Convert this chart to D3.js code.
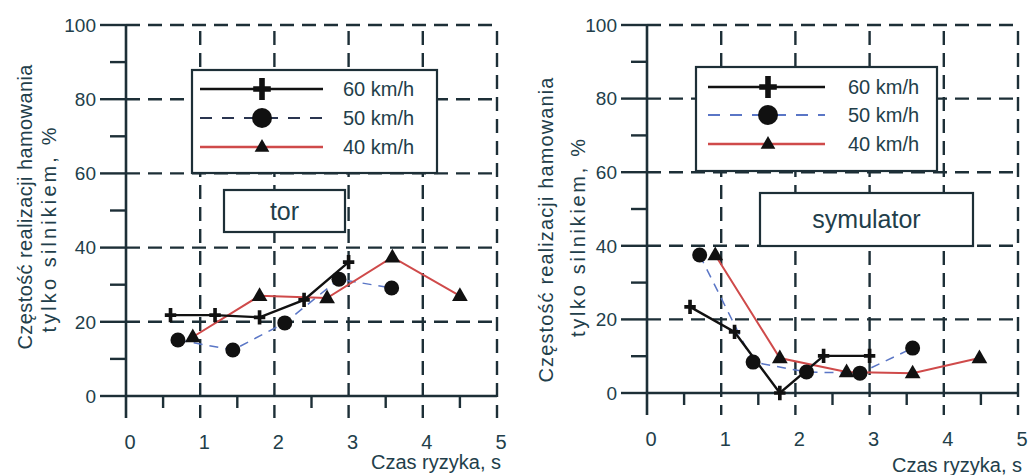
<!DOCTYPE html>
<html>
<head>
<meta charset="utf-8">
<script src="https://cdn.jsdelivr.net/npm/d3@7"></script>
<style>
  html, body { margin: 0; padding: 0; background: #fff; }
  svg { display: block; font-family: "Liberation Sans", Arial, sans-serif; }
</style>
</head>
<body>
<svg id="chart" width="1029" height="475"></svg>
<script>
// Speed series shown in both panels
const speedLabels = ["60 km/h", "50 km/h", "40 km/h"];
const xTicks = [0, 1, 2, 3, 4, 5];
const xMinorTicks = [0.5, 1.5, 2.5, 3.5, 4.5];
const yTicks = [0, 20, 40, 60, 80, 100];
const yMinorTicks = [10, 30, 50, 70, 90];
const xTitle = "Czas ryzyka, s";
const yTitle1 = "Częstość realizacji hamowania";
const yTitle2 = "tylko silnikiem, %";
const panelNames = ["tor", "symulator"];

// Track ("tor") measurements: risk time [s] and share [%]
const torT60 = [0.6, 1.2, 1.8, 2.4, 3.0];
const torV60 = [21.8, 21.8, 21.2, 25.9, 36.1];
const torT50 = [0.7, 1.44, 2.14, 2.87, 3.58];
const torV50 = [15.1, 12.4, 19.7, 31.5, 29.1];
const torT40 = [0.9, 1.8, 2.71, 3.59, 4.5];
const torV40 = [15.9, 27.0, 26.4, 37.4, 27.0];

// Simulator ("symulator") measurements
const symT60 = [0.58, 1.18, 1.79, 2.38, 3.0];
const symV60 = [23.4, 16.6, 0, 10.1, 10.1];
const symT50 = [0.71, 1.43, 2.15, 2.87, 3.58];
const symV50 = [37.5, 8.4, 5.7, 5.4, 12.2];
const symT40 = [0.92, 1.79, 2.69, 3.58, 4.48];
const symV40 = [37.5, 9.5, 5.7, 5.4, 9.5];

const INK = "#1d2f37";
const TXT = "#223e4a";
const C50 = "#5a76c6";
const C40 = "#cf4a4a";

const zip = (t, v) => t.map((d, i) => ({ t: d, v: v[i] }));

const panels = [
  {
    name: panelNames[0],
    x0: 126, x1: 497, y0: 396, y1: 25,
    legend: { x: 192, y: 70, w: 245, h: 103, rows: [89, 118, 147], lx0: 200, lx1: 323, mx: 262, tx: 343, c50: "#2a3550" },
    box: { x: 224, y: 190, w: 121, h: 42 },
    title1: { x: 25, cy: 207, len: 285 },
    title2: { x: 49, cy: 230, len: 205 },
    xTitleY: 469,
    series: [zip(torT60, torV60), zip(torT50, torV50), zip(torT40, torV40)]
  },
  {
    name: panelNames[1],
    x0: 647, x1: 1018, y0: 393, y1: 25,
    legend: { x: 696, y: 67, w: 241, h: 104, rows: [87, 115, 144], lx0: 708, lx1: 825, mx: 768, tx: 848, c50: C50 },
    box: { x: 760, y: 193, w: 213, h: 53 },
    title1: { x: 546, cy: 230, len: 305 },
    title2: { x: 578, cy: 238, len: 198 },
    xTitleY: 472,
    series: [zip(symT60, symV60), zip(symT50, symV50), zip(symT40, symV40)]
  }
];

const svg = d3.select("#chart");

function drawMarker(g, kind, cx, cy, size) {
  if (kind === 0) {
    const a = size * 0.55;
    g.append("path")
      .attr("d", `M${cx - a * 0.8},${cy}H${cx + a * 0.8}M${cx},${cy - a}V${cy + a}`)
      .attr("stroke", "#111").attr("stroke-width", size * 0.28).attr("fill", "none");
  } else if (kind === 1) {
    g.append("circle").attr("cx", cx).attr("cy", cy).attr("r", size * 0.5).attr("fill", "#111");
  } else {
    const s = size * 1.05;
    const h = s * 0.87;
    g.append("path")
      .attr("d", `M${cx},${cy - h * 0.62}L${cx + s / 2},${cy + h * 0.38}L${cx - s / 2},${cy + h * 0.38}Z`)
      .attr("fill", "#111");
  }
}

panels.forEach(p => {
  const x = d3.scaleLinear().domain([0, 5]).range([p.x0, p.x1]);
  const y = d3.scaleLinear().domain([0, 100]).range([p.y0, p.y1]);
  const g = svg.append("g");

  // dashed grid
  g.selectAll(".hgrid").data(yTicks.filter(d => d > 0)).enter().append("line")
    .attr("x1", p.x0).attr("x2", p.x1).attr("y1", d => y(d)).attr("y2", d => y(d))
    .attr("stroke", INK).attr("stroke-width", 2.4).attr("stroke-dasharray", "14,8");
  g.selectAll(".vgrid").data(xTicks.filter(d => d > 0)).enter().append("line")
    .attr("x1", d => x(d)).attr("x2", d => x(d)).attr("y1", p.y1).attr("y2", p.y0 + 22)
    .attr("stroke", INK).attr("stroke-width", 2.4).attr("stroke-dasharray", "14,8")
    .attr("stroke-dashoffset", -6);

  // y axis and ticks
  g.append("line").attr("x1", p.x0).attr("x2", p.x0).attr("y1", p.y1).attr("y2", p.y0 + 22)
    .attr("stroke", INK).attr("stroke-width", 2.6);
  g.selectAll(".ymaj").data(yTicks).enter().append("line")
    .attr("x1", p.x0 - 26).attr("x2", p.x0).attr("y1", d => y(d)).attr("y2", d => y(d))
    .attr("stroke", INK).attr("stroke-width", 2.4);
  g.selectAll(".ymin").data(yMinorTicks).enter().append("line")
    .attr("x1", p.x0 - 16).attr("x2", p.x0).attr("y1", d => y(d)).attr("y2", d => y(d))
    .attr("stroke", INK).attr("stroke-width", 2.4);

  // x axis line and minor ticks
  g.append("line").attr("x1", p.x0).attr("x2", p.x1).attr("y1", y(0)).attr("y2", y(0))
    .attr("stroke", INK).attr("stroke-width", 2.6);
  g.selectAll(".xmin").data(xMinorTicks).enter().append("line")
    .attr("x1", d => x(d)).attr("x2", d => x(d)).attr("y1", y(0)).attr("y2", y(0) + 12)
    .attr("stroke", INK).attr("stroke-width", 2.4);

  // tick labels
  g.selectAll(".ylab").data(yTicks).enter().append("text")
    .attr("x", p.x0 - 30).attr("y", d => y(d)).attr("dy", "0.36em")
    .attr("text-anchor", "end").attr("font-size", 19).attr("fill", TXT).text(d => d);
  g.selectAll(".xlab").data(xTicks).enter().append("text")
    .attr("x", d => x(d) + 4).attr("y", p.y0 + 53)
    .attr("text-anchor", "middle").attr("font-size", 20).attr("fill", TXT).text(d => d);

  // axis titles
  g.append("text").attr("x", p.x1 + 4).attr("y", p.xTitleY).attr("text-anchor", "end")
    .attr("font-size", 20).attr("fill", TXT).text(xTitle);
  [[p.title1, yTitle1], [p.title2, yTitle2]].forEach(([t, s]) => {
    g.append("text")
      .attr("transform", `translate(${t.x},${t.cy}) rotate(-90)`)
      .attr("text-anchor", "middle").attr("dy", "0.35em")
      .attr("font-size", 20).attr("fill", TXT)
      .attr("textLength", t.len).attr("lengthAdjust", "spacing")
      .text(s);
  });

  // legend
  const L = p.legend;
  g.append("rect").attr("x", L.x).attr("y", L.y).attr("width", L.w).attr("height", L.h)
    .attr("fill", "#fff").attr("stroke", INK).attr("stroke-width", 2.2);
  const legStyles = [
    { c: "#111", w: 2.6, dash: null },
    { c: L.c50, w: 2.0, dash: "12,10" },
    { c: C40, w: 2.6, dash: null }
  ];
  speedLabels.forEach((lab, i) => {
    const ry = L.rows[i];
    const st = legStyles[i];
    g.append("line").attr("x1", L.lx0).attr("x2", L.lx1).attr("y1", ry).attr("y2", ry)
      .attr("stroke", st.c).attr("stroke-width", st.w).attr("stroke-dasharray", st.dash);
    drawMarker(g, i, L.mx, ry, i === 0 ? 20 : (i === 1 ? 20 : 14));
    g.append("text").attr("x", L.tx).attr("y", ry).attr("dy", "0.36em")
      .attr("font-size", 20).attr("fill", TXT).text(lab);
  });

  // panel name box
  const B = p.box;
  g.append("rect").attr("x", B.x).attr("y", B.y).attr("width", B.w).attr("height", B.h)
    .attr("fill", "#fff").attr("stroke", INK).attr("stroke-width", 2.2);
  g.append("text").attr("x", B.x + B.w / 2).attr("y", B.y + B.h / 2).attr("dy", "0.35em")
    .attr("text-anchor", "middle").attr("font-size", 25).attr("fill", TXT).text(p.name);

  // data series
  const line = d3.line().x(d => x(d.t)).y(d => y(d.v));
  const styles = [
    { c: "#111", w: 2.4, dash: null },
    { c: C50, w: 1.5, dash: "9,7" },
    { c: C40, w: 2.0, dash: null }
  ];
  [1, 2, 0].forEach(i => {
    g.append("path").datum(p.series[i]).attr("d", line)
      .attr("fill", "none").attr("stroke", styles[i].c)
      .attr("stroke-width", styles[i].w).attr("stroke-dasharray", styles[i].dash);
  });
  [1, 2, 0].forEach(i => {
    p.series[i].forEach(d => drawMarker(g, i, x(d.t), y(d.v), i === 0 ? 13 : 15));
  });
});
</script>
</body>
</html>
